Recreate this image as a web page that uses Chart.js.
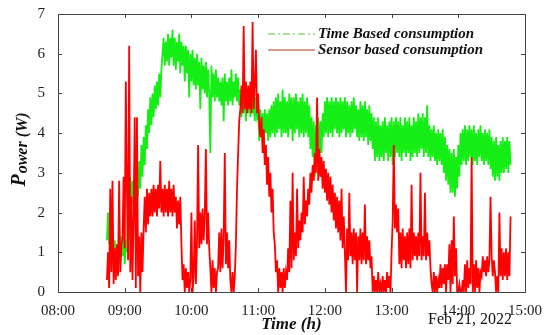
<!DOCTYPE html>
<html>
<head>
<meta charset="utf-8">
<script src="https://cdn.jsdelivr.net/npm/chart.js@4.4.0/dist/chart.umd.min.js"></script>
<style>
  html, body { margin: 0; padding: 0; background: #fff; }
  #wrap { width: 550px; height: 335px; }
</style>
</head>
<body>
<div id="wrap"><canvas id="grafico" width="550" height="335"></canvas></div>
<script>
// one sample per minute, first sample at 08:44
const startMinute = 8 * 60 + 44;

const tickLabels = ["08:00", "09:00", "10:00", "11:00", "12:00", "13:00", "14:00", "15:00"];
const yTicks = [0, 1, 2, 3, 4, 5, 6, 7];

// Time Based consumption (W)
const timeBased = [
  1.3,2.0,1.2,2.1,0.7,1.2,0.6,1.3,0.8,1.1,
  0.8,1.5,0.7,1.4,0.9,1.5,0.7,1.3,1.0,2.8,
  2.1,2.9,2.2,2.8,2.1,2.9,2.3,2.8,2.4,3.3,
  2.6,3.7,2.9,3.9,3.2,4.2,3.6,4.6,4.0,4.9,
  4.2,5.0,4.4,5.2,4.6,5.3,4.7,5.5,4.9,5.6,
  6.0,6.4,5.7,6.3,5.8,6.5,5.7,6.4,5.9,6.6,
  5.7,6.4,5.6,6.3,5.8,6.5,5.5,6.3,5.7,6.2,
  5.3,6.2,5.5,6.1,4.9,6.0,5.3,6.1,5.2,5.9,
  5.1,6.0,5.2,5.8,4.6,5.9,5.1,5.7,5.0,5.8,
  4.9,5.6,5.0,3.5,5.7,4.9,5.5,4.8,5.6,4.9,
  5.4,4.8,5.3,4.7,5.4,4.3,5.5,4.8,5.3,4.7,
  5.4,4.8,5.6,4.7,5.3,4.9,5.5,4.8,5.4,4.7,
  5.1,4.4,5.0,4.5,5.2,4.3,5.0,4.5,4.9,4.4,
  5.0,4.5,4.8,4.3,4.9,4.4,4.5,3.8,4.6,3.9,
  4.5,3.7,4.6,4.0,4.5,3.8,4.6,3.9,4.7,4.0,
  4.8,3.9,4.9,4.0,5.0,4.1,4.8,3.9,5.1,4.0,
  4.9,4.0,4.8,3.9,5.0,4.1,4.9,3.8,4.9,4.0,
  5.0,4.1,4.8,3.9,4.9,4.0,5.0,3.9,4.8,4.0,
  4.9,3.9,4.7,3.6,4.4,3.4,4.3,2.9,4.2,3.4,
  4.4,3.3,4.3,3.5,4.5,3.9,4.8,4.0,4.9,3.9,
  4.8,4.0,4.9,3.9,4.8,4.1,4.9,4.0,4.8,3.9,
  4.9,4.0,4.8,4.1,4.9,3.9,4.8,4.0,4.7,3.9,
  4.8,4.0,4.9,4.1,4.7,3.9,4.6,3.8,4.8,3.9,
  4.7,3.8,4.8,3.9,4.6,3.7,4.7,3.8,4.5,3.6,
  4.4,3.3,4.3,3.4,4.4,3.3,4.2,3.4,4.3,3.3,
  4.4,3.5,4.2,3.3,4.3,3.4,4.4,3.2,4.3,3.4,
  4.4,3.5,4.3,3.4,4.4,3.3,4.2,3.5,4.4,3.4,
  4.3,3.5,4.4,3.3,4.2,3.4,4.4,3.5,4.3,3.4,
  4.5,3.5,4.4,3.6,4.5,3.4,4.4,3.5,4.7,3.4,
  4.2,3.3,4.1,3.4,4.2,3.3,4.0,3.2,4.1,3.3,
  4.0,3.2,4.1,3.0,3.9,2.8,3.7,2.7,3.6,2.5,
  3.5,2.5,3.6,2.4,3.4,2.6,3.7,2.9,4.0,3.2,
  4.1,3.3,4.2,3.2,4.1,3.3,4.2,3.4,4.1,3.2,
  4.2,3.3,4.0,3.2,4.1,3.4,4.2,3.3,4.0,3.2,
  4.1,3.3,4.0,3.2,4.1,3.1,3.9,2.9,3.8,2.8,
  3.9,2.9,3.7,2.8,3.8,3.0,3.9,3.0,3.8,3.1,
  3.9,3.0,3.8,3.2
];

// Sensor based consumption (W)
const sensorBased = [
  0.3,1.0,0.1,2.6,0.5,2.8,0.2,1.1,0.3,1.2,
  0.4,2.8,0.5,1.2,1.3,2.9,1.1,5.3,2.6,0.8,
  6.2,0.5,2.4,0.3,1.9,4.4,0.1,4.4,0.4,1.4,
  0.0,1.5,0.5,1.6,2.4,1.5,2.6,1.7,2.5,1.9,
  2.6,1.9,2.7,2.0,2.6,1.9,2.7,2.1,3.3,2.0,
  2.6,1.9,2.7,2.0,2.6,1.9,2.8,2.0,2.6,1.9,
  2.7,2.0,2.4,1.6,2.3,1.7,2.4,1.2,0.3,0.7,
  0.0,0.6,0.1,0.5,0.0,0.3,2.0,0.0,0.4,1.8,
  0.2,1.2,3.7,1.1,2.0,1.2,2.1,1.3,2.0,3.6,
  1.2,2.0,1.1,0.6,0.0,0.8,0.1,0.6,0.0,0.5,
  0.6,1.5,0.5,1.6,0.6,1.4,3.5,0.7,1.5,0.6,
  1.3,0.3,0.0,0.5,0.0,0.4,1.2,2.6,3.5,4.3,
  4.6,5.2,4.5,6.7,4.6,5.3,4.5,5.2,4.6,5.3,
  4.5,6.8,4.6,5.2,6.1,4.5,5.0,4.2,3.9,4.4,
  3.5,4.1,3.2,3.7,2.7,3.4,2.4,3.0,2.0,2.6,
  1.5,1.2,0.5,0.8,0.0,0.6,0.1,0.5,0.0,0.6,
  0.1,0.5,0.3,1.1,0.5,2.3,0.6,3.0,0.8,1.5,
  0.9,2.6,1.1,1.8,1.3,2.0,1.5,2.9,1.7,2.3,
  1.9,2.6,2.2,3.0,2.5,3.2,2.8,3.5,3.0,4.9,
  2.8,3.6,2.9,3.4,2.6,3.3,2.5,3.1,2.3,3.0,
  2.2,2.9,2.0,2.7,1.8,2.5,1.6,2.4,1.5,2.3,
  1.3,2.6,1.1,1.9,1.0,0.0,1.6,0.8,2.5,0.9,
  1.5,0.7,1.6,0.8,1.5,0.0,1.4,0.8,1.6,0.7,
  1.5,0.8,2.2,0.7,1.4,0.8,1.3,0.6,0.9,0.0,
  0.4,0.0,0.3,0.0,0.5,0.0,0.2,0.0,0.4,0.0,
  0.3,0.0,0.5,0.1,0.4,0.0,1.0,1.8,3.7,1.6,
  2.2,1.5,2.1,0.7,1.5,0.6,1.6,0.8,1.4,0.6,
  1.5,0.7,1.6,0.6,2.7,0.8,1.5,0.9,1.4,0.8,
  1.5,0.9,3.0,0.8,1.4,0.9,2.5,0.8,1.5,0.9,
  1.3,0.6,0.2,0.0,0.5,0.0,0.4,0.0,0.3,0.1,
  0.7,0.1,0.6,0.2,0.7,0.0,0.7,0.3,1.2,0.0,
  1.3,0.2,1.9,0.4,1.1,0.0,0.0,0.2,0.0,0.0,
  0.3,0.0,0.7,0.0,0.8,0.1,0.6,0.2,3.4,0.0,
  0.7,0.0,0.8,0.1,0.6,0.0,0.5,0.4,0.9,0.5,
  0.8,0.4,0.9,0.5,0.8,2.4,0.9,0.4,0.8,0.5,
  0.0,0.4,0.0,2.0,0.4,1.1,0.3,1.0,0.4,1.1,
  0.3,1.0,0.4,1.9
];

const legendItems = ["Time Based consumption", "Sensor based consumption"];
const dateLabel = "Feb 21, 2022";

const serif = '"Liberation Serif", "Times New Roman", serif';

function toPoints(valores) {
  return valores.map((v, i) => ({ x: startMinute + i, y: v }));
}

// frame, inner ticks, legend, y title and date
const molduraPlugin = {
  id: 'moldura',
  afterDraw(chart) {
    const ctx = chart.ctx;
    const a = chart.chartArea;
    const sx = chart.scales.x;
    const sy = chart.scales.y;
    ctx.save();
    ctx.strokeStyle = '#444';
    ctx.lineWidth = 1;
    ctx.strokeRect(Math.round(a.left) + 0.5, Math.round(a.top) + 0.5,
      Math.round(a.right - a.left), Math.round(a.bottom - a.top));

    ctx.beginPath();
    tickLabels.forEach((t, i) => {
      const px = Math.round(sx.getPixelForValue(480 + i * 60)) + 0.5;
      ctx.moveTo(px, a.bottom); ctx.lineTo(px, a.bottom - 4);
      ctx.moveTo(px, a.top); ctx.lineTo(px, a.top + 4);
    });
    yTicks.forEach(v => {
      const py = Math.round(sy.getPixelForValue(v)) + 0.5;
      ctx.moveTo(a.left, py); ctx.lineTo(a.left + 4, py);
      ctx.moveTo(a.right, py); ctx.lineTo(a.right - 4, py);
    });
    ctx.stroke();

    // legend
    ctx.lineWidth = 1.2;
    ctx.strokeStyle = '#5cc43a';
    ctx.setLineDash([7, 3, 2, 3]);
    ctx.beginPath(); ctx.moveTo(268, 34); ctx.lineTo(315, 34); ctx.stroke();
    ctx.setLineDash([]);
    ctx.strokeStyle = '#b8391a';
    ctx.beginPath(); ctx.moveTo(268, 50); ctx.lineTo(315, 50); ctx.stroke();

    ctx.fillStyle = '#111';
    ctx.font = 'italic bold 15px ' + serif;
    ctx.textBaseline = 'middle';
    ctx.textAlign = 'left';
    ctx.fillText(legendItems[0], 318, 34);
    ctx.fillText(legendItems[1], 318, 50);

    // date under the axis
    ctx.font = '16px ' + serif;
    ctx.textAlign = 'right';
    ctx.fillText(dateLabel, 512, 320);

    // y axis title, P with smaller "ower"
    ctx.translate(25, 150);
    ctx.rotate(-Math.PI / 2);
    ctx.textBaseline = 'alphabetic';
    ctx.textAlign = 'left';
    ctx.font = 'italic bold 20px ' + serif;
    const wP = ctx.measureText('P').width;
    ctx.font = 'italic bold 16px ' + serif;
    const wResto = ctx.measureText('ower (W)').width;
    const x0 = -(wP + wResto) / 2;
    ctx.font = 'italic bold 20px ' + serif;
    ctx.fillText('P', x0, 0);
    ctx.font = 'italic bold 16px ' + serif;
    ctx.fillText('ower (W)', x0 + wP + 1, 2);
    ctx.restore();
  }
};

const ctx = document.getElementById('grafico').getContext('2d');
new Chart(ctx, {
  type: 'line',
  data: {
    datasets: [
      {
        label: legendItems[1],
        data: toPoints(sensorBased),
        borderColor: '#ff0000',
        borderWidth: 1.8,
        pointRadius: 0,
        tension: 0,
        order: 0
      },
      {
        label: legendItems[0],
        data: toPoints(timeBased),
        borderColor: '#14ee14',
        borderWidth: 1.8,
        pointRadius: 0,
        tension: 0,
        order: 1
      }
    ]
  },
  options: {
    responsive: false,
    animation: false,
    devicePixelRatio: 1,
    layout: { padding: { top: 14, right: 25, left: 0, bottom: 0 } },
    plugins: {
      legend: { display: false },
      tooltip: { enabled: false }
    },
    scales: {
      x: {
        type: 'linear',
        min: 480,
        max: 900,
        grid: { display: false },
        border: { display: false },
        afterFit(scale) { scale.height = 43; },
        ticks: {
          stepSize: 60,
          maxRotation: 0,
          padding: 2,
          color: '#222',
          font: { family: serif, size: 15 },
          callback: (v) => tickLabels[(v - 480) / 60]
        },
        title: {
          display: true,
          text: 'Time (h)',
          color: '#111',
          padding: { top: 0, bottom: 0 },
          font: { family: serif, size: 17, style: 'italic', weight: 'bold' }
        }
      },
      y: {
        min: 0,
        max: 7,
        grid: { display: false },
        border: { display: false },
        afterFit(scale) { scale.width = 58; },
        ticks: {
          stepSize: 1,
          padding: 5,
          color: '#222',
          font: { family: serif, size: 15 }
        }
      }
    }
  },
  plugins: [molduraPlugin]
});
</script>
</body>
</html>
